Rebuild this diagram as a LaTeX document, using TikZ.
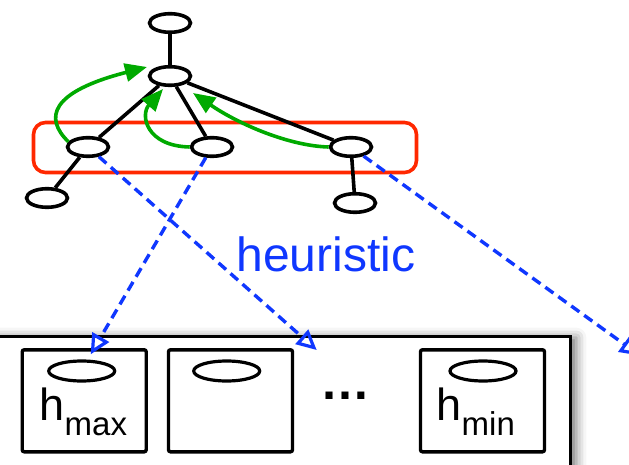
\documentclass[tikz,border=0pt]{standalone}
\usepackage{fontspec}
\setmainfont{Liberation Sans}
\usetikzlibrary{shapes.geometric,arrows.meta,shadows.blur}
\definecolor{treegreen}{RGB}{0,170,0}
\definecolor{groupred}{RGB}{255,40,0}
\definecolor{linkblue}{RGB}{15,55,255}
% bucket label: a large h with a lowered subscript
\newcommand\bucketlabel[1]{{\fontsize{45}{50}\selectfont h}{\fontsize{33}{36}\selectfont\raisebox{-15pt}{#1}}}

\begin{document}
\begin{tikzpicture}[x=1pt,y=-1pt,
  vertex/.style={ellipse,draw,fill=white,line width=3.6pt,minimum width=41pt,minimum height=18.6pt,inner sep=0pt},
  edge/.style={line width=3.6pt},
  climb/.style={treegreen,line width=3.6pt,-{Triangle[length=22pt,width=18pt]}},
  hlink/.style={linkblue,line width=3.4pt,dash pattern=on 10pt off 6pt,
    -{Triangle[open,length=20pt,width=19pt,line width=3.2pt]}},
  bucket/.style={draw,fill=white,line width=3.4pt,rounded corners=2pt,minimum width=124pt,minimum height=102pt},
  slot/.style={ellipse,draw,line width=3.2pt,minimum width=66pt,minimum height=20pt,inner sep=0pt},
]
\useasboundingbox (0,0) rectangle (629,465);
\clip (0,0) rectangle (629,465);

% highlighted level of the tree
\node[draw=groupred,line width=3.6pt,rounded corners=12pt,minimum width=383pt,minimum height=50pt] (level) at (225,147.5) {};

% tree
\node[vertex] (top) at (170,23) {};
\node[vertex] (rt) at (170,76) {};
\node[vertex] (lc) at (88,147) {};
\node[vertex] (mc) at (212,147) {};
\node[vertex] (rc) at (351,147) {};
\node[vertex] (lb) at (47,198) {};
\node[vertex] (rb) at (355,203) {};
\draw[edge] (top) -- (rt);
\draw[edge] (rt) -- (lc);
\draw[edge] (rt) -- (mc);
\draw[edge] (rt) -- (rc);
\draw[edge] (lc) -- (lb);
\draw[edge] (rc) -- (rb);

% values passed up to the parent
\coordinate (g1) at (147,67);
\coordinate (g2) at (163,89);
\coordinate (g3) at (193,93);
\draw[climb] (lc.165) .. controls (44,118) and (50,92) .. (g1);
\draw[climb] (mc.west) .. controls (146,146) and (140,115) .. (g2);
\draw[climb] (rc.west) .. controls (290,146) and (240,125) .. (g3);

\node[anchor=base,inner sep=0pt,text=linkblue,font=\fontsize{48}{52}\selectfont] (heur) at (325.8,271) {heuristic};

% priority queue of buckets
\node[draw,fill=white,line width=3.4pt,minimum width=600pt,minimum height=160pt,anchor=north east,
  blur shadow={shadow xshift=6pt,shadow yshift=-1pt,shadow blur radius=10pt,shadow opacity=55}] (queue) at (572,335) {};
\node[bucket] (b1) at (84.2,400.8) {};
\node[bucket] (b2) at (230.5,400.8) {};
\node[bucket] (b3) at (482.5,400.8) {};
\node[slot] (s1) at (81.7,371) {};
\node[slot] (s2) at (226.7,371) {};
\node[slot] (s3) at (483,371) {};
\node[anchor=base,inner sep=0pt] (lmax) at (83.4,420) {\bucketlabel{max}};
\node[anchor=base,inner sep=0pt] (lmin) at (475.8,420) {\bucketlabel{min}};
\node[anchor=base,inner sep=0pt,font=\bfseries\fontsize{50}{54}\selectfont] (dots) at (345.5,399) {\char"2026};

% heuristic placement into buckets
\coordinate (t1) at (90.7,354.3);
\coordinate (t2) at (316.7,350);
\coordinate (t3) at (640,355.6);
\draw[hlink] (mc) -- (t1);
\draw[hlink] (lc) -- (t2);
\draw[hlink] (rc) -- (t3);
\end{tikzpicture}
\end{document}
